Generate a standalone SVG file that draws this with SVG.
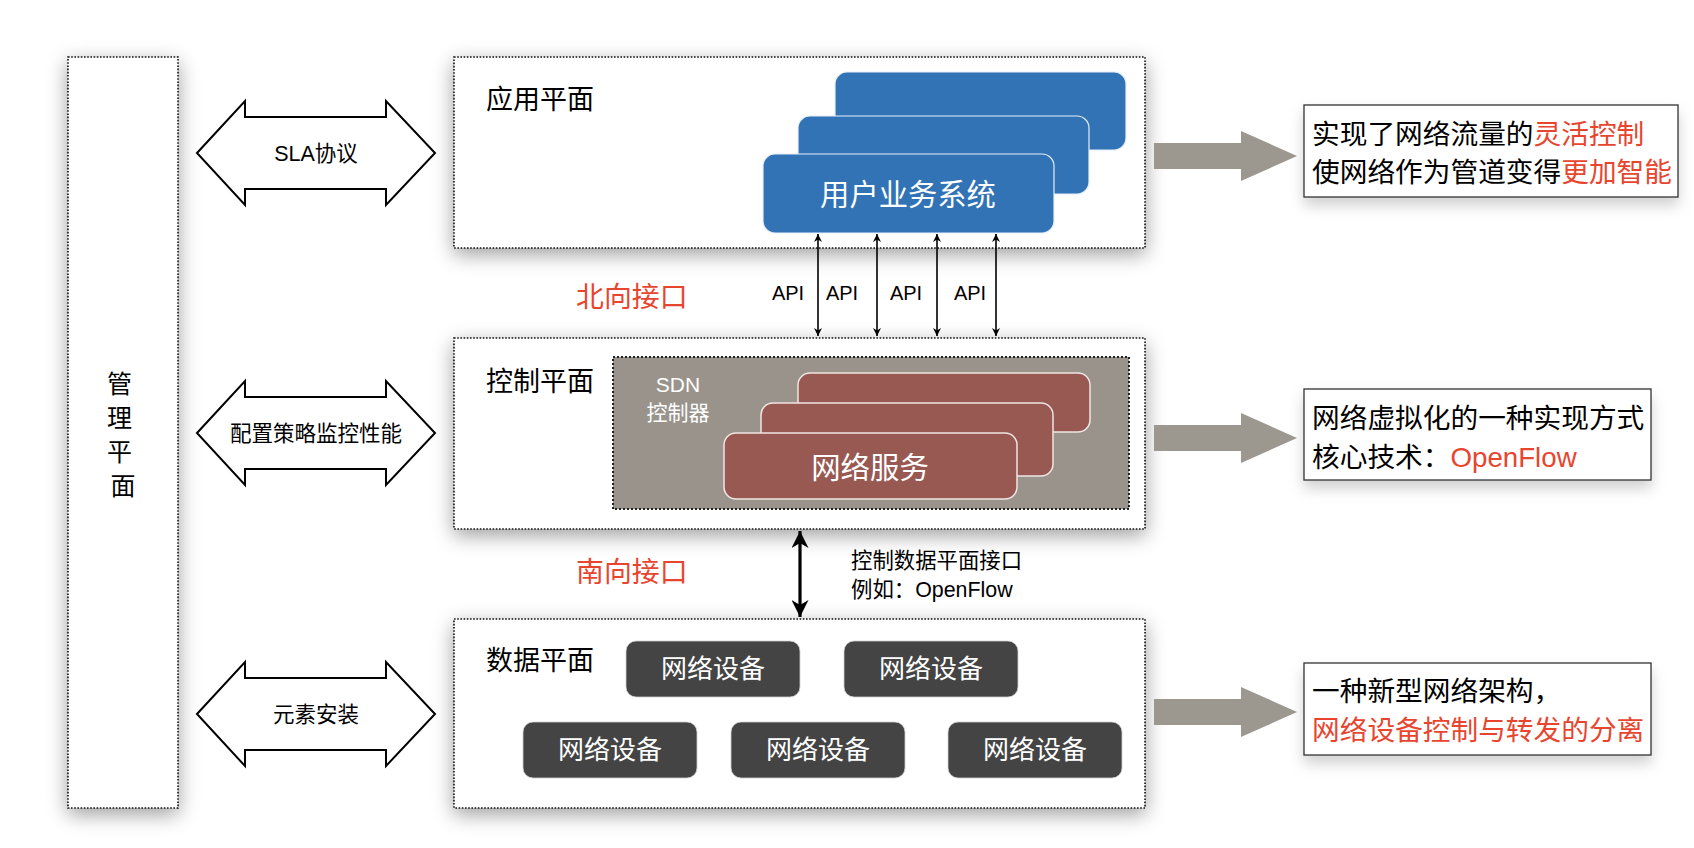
<svg xmlns="http://www.w3.org/2000/svg" width="1694" height="848" viewBox="0 0 1694 848">
  <defs>
    <filter id="shadow" x="-30%" y="-30%" width="160%" height="160%">
      <feDropShadow dx="0" dy="6" stdDeviation="10" flood-color="#000" flood-opacity="0.38"/>
    </filter>
    <filter id="shadow2" x="-20%" y="-30%" width="140%" height="170%">
      <feDropShadow dx="0" dy="8" stdDeviation="7" flood-color="#000" flood-opacity="0.18"/>
    </filter>
    <marker id="apiHead" viewBox="0 0 10 10" refX="10" refY="5" markerWidth="9" markerHeight="8" markerUnits="userSpaceOnUse" orient="auto-start-reverse">
      <path d="M0,0 L10,5 L0,10 L3,5 Z" fill="#000"/>
    </marker>
    <marker id="southHead" viewBox="0 0 10 10" refX="10" refY="5" markerWidth="17" markerHeight="17" markerUnits="userSpaceOnUse" orient="auto-start-reverse">
      <path d="M0,0 L10,5 L0,10 L3,5 Z" fill="#000"/>
    </marker>
  </defs>
  <style>
    text { font-family: "Liberation Sans", "Noto Sans CJK SC", sans-serif; }
    .plane { fill: #fff; stroke: #111; stroke-width: 1.6; stroke-dasharray: 1.6 1.6; filter: url(#shadow); }
    .label { font-size: 27px; fill: #000; }
    .red { fill: #e8452f; }
    .blk { fill: #000; }
    .blockarrow { fill: #fff; stroke: #000; stroke-width: 2; stroke-linejoin: miter; }
    .arrowtext { font-size: 21.5px; fill: #000; text-anchor: middle; }
    .blue { fill: #3273b6; stroke: #e6eef7; stroke-width: 1.2; }
    .brown { fill: #985953; stroke: #f0e6e4; stroke-width: 1.5; }
    .dev { fill: #444444; stroke: #cfcfcf; stroke-width: 0.8; }
    .wtext { fill: #fff; text-anchor: middle; }
    .gray { fill: #9c978f; }
    .note { fill: #fff; stroke: #333; stroke-width: 1.3; filter: url(#shadow2); }
    .notetext { font-size: 27.7px; }
    .api { stroke: #000; stroke-width: 1.6; fill: none; marker-start: url(#apiHead); marker-end: url(#apiHead); }
    .apitext { font-size: 20px; fill: #000; text-anchor: middle; }
  </style>
  <rect width="1694" height="848" fill="#fff"/>

  <!-- Management plane -->
  <g id="mgmt-plane">
    <rect class="plane" x="68" y="57" width="110" height="751"/>
    <text x="123" font-size="25" text-anchor="middle" fill="#000">
      <tspan x="123" y="393">管</tspan>
      <tspan x="123" y="427">理</tspan>
      <tspan x="123" y="461">平</tspan>
      <tspan x="123" y="495">面</tspan>
    </text>
  </g>

  <!-- Double block arrows -->
  <g id="arrow-sla">
    <path class="blockarrow" d="M197,153 L245,101 L245,117 L386,117 L386,101 L435,153 L386,205 L386,189 L245,189 L245,205 Z"/>
    <text class="arrowtext" x="316" y="160.5">SLA协议</text>
  </g>
  <g id="arrow-config">
    <path class="blockarrow" d="M197,433 L245,381 L245,397 L386,397 L386,381 L435,433 L386,485 L386,469 L245,469 L245,485 Z"/>
    <text class="arrowtext" x="316" y="441">配置策略监控性能</text>
  </g>
  <g id="arrow-install">
    <path class="blockarrow" d="M197,714 L245,662 L245,678 L386,678 L386,662 L435,714 L386,766 L386,750 L245,750 L245,766 Z"/>
    <text class="arrowtext" x="316" y="722">元素安装</text>
  </g>

  <!-- Application plane -->
  <g id="app-plane">
    <rect class="plane" x="454" y="57" width="691" height="191"/>
    <text class="label" x="486" y="108.7">应用平面</text>
    <rect class="blue" x="835" y="72" width="291" height="78" rx="12"/>
    <rect class="blue" x="798" y="116" width="291" height="78" rx="12"/>
    <rect class="blue" x="763" y="154" width="291" height="79" rx="12"/>
    <text class="wtext" x="908" y="204.5" font-size="29.3">用户业务系统</text>
  </g>

  <!-- Control plane -->
  <g id="control-plane">
    <rect class="plane" x="454" y="338" width="691" height="191"/>
    <text class="label" x="486" y="390.5">控制平面</text>
  </g>
  <g id="sdn-controller">
    <rect x="613" y="357" width="516" height="152" fill="#99938b" stroke="#222" stroke-width="2" stroke-dasharray="2 2"/>
    <text class="wtext" x="678" y="392" font-size="21">SDN</text>
    <text class="wtext" x="678" y="420" font-size="21">控制器</text>
    <rect class="brown" x="798" y="373" width="292" height="59" rx="12"/>
    <rect class="brown" x="761" y="403" width="292" height="73" rx="12"/>
    <rect class="brown" x="724" y="433" width="293" height="66" rx="12"/>
    <text class="wtext" x="870" y="477.5" font-size="29.4">网络服务</text>
  </g>

  <!-- Data plane -->
  <g id="data-plane">
    <rect class="plane" x="454" y="619" width="691" height="189"/>
    <text class="label" x="486" y="669.7">数据平面</text>
  </g>
  <g id="dev1"><rect class="dev" x="626" y="641" width="174" height="56" rx="10"/><text class="wtext" x="713" y="678.4" font-size="26">网络设备</text></g>
  <g id="dev2"><rect class="dev" x="844" y="641" width="174" height="56" rx="10"/><text class="wtext" x="931" y="678.4" font-size="26">网络设备</text></g>
  <g id="dev3"><rect class="dev" x="523" y="722" width="174" height="56" rx="10"/><text class="wtext" x="610" y="759.4" font-size="26">网络设备</text></g>
  <g id="dev4"><rect class="dev" x="731" y="722" width="174" height="56" rx="10"/><text class="wtext" x="818" y="759.4" font-size="26">网络设备</text></g>
  <g id="dev5"><rect class="dev" x="948" y="722" width="174" height="56" rx="10"/><text class="wtext" x="1035" y="759.4" font-size="26">网络设备</text></g>

  <!-- Interface labels -->
  <g id="north-label"><text class="red" x="576" y="307" font-size="27.9">北向接口</text></g>
  <g id="south-label"><text class="red" x="576" y="581.5" font-size="27.9">南向接口</text></g>
  <g id="south-desc">
    <text x="851" y="567.8" font-size="21.4" fill="#000">控制数据平面接口</text>
    <text x="851" y="597.3" font-size="21.4" fill="#000">例如：OpenFlow</text>
  </g>

  <!-- Connectors -->
  <g id="connectors">
    <line class="api" x1="818" y1="234" x2="818" y2="336"/>
    <line class="api" x1="877" y1="234" x2="877" y2="336"/>
    <line class="api" x1="937" y1="234" x2="937" y2="336"/>
    <line class="api" x1="996" y1="234" x2="996" y2="336"/>
    <line x1="800" y1="531" x2="800" y2="617" stroke="#000" stroke-width="3.2" marker-start="url(#southHead)" marker-end="url(#southHead)"/>
    <path class="gray" d="M1154,143 L1241,143 L1241,131 L1297,156 L1241,181 L1241,169 L1154,169 Z"/>
    <path class="gray" d="M1154,425 L1241,425 L1241,413 L1297,438 L1241,463 L1241,451 L1154,451 Z"/>
    <path class="gray" d="M1154,699 L1241,699 L1241,687 L1297,712 L1241,737 L1241,725 L1154,725 Z"/>
  </g>
  <g id="api-labels">
    <text class="apitext" x="788" y="300">API</text>
    <text class="apitext" x="842" y="300">API</text>
    <text class="apitext" x="906" y="300">API</text>
    <text class="apitext" x="970" y="300">API</text>
  </g>

  <!-- Notes -->
  <g id="note1">
    <rect class="note" x="1304" y="105" width="374" height="92"/>
    <text class="notetext" x="1312" y="143.5"><tspan class="blk">实现了网络流量的</tspan><tspan class="red">灵活控制</tspan></text>
    <text class="notetext" x="1312" y="181.5"><tspan class="blk">使网络作为管道变得</tspan><tspan class="red">更加智能</tspan></text>
  </g>
  <g id="note2">
    <rect class="note" x="1304" y="389" width="347" height="91"/>
    <text class="notetext blk" x="1312" y="427.5">网络虚拟化的一种实现方式</text>
    <text class="notetext" x="1312" y="466.5"><tspan class="blk">核心技术：</tspan><tspan class="red">OpenFlow</tspan></text>
  </g>
  <g id="note3">
    <rect class="note" x="1304" y="663" width="347" height="92"/>
    <text class="notetext blk" x="1312" y="700.5">一种新型网络架构，</text>
    <text class="notetext red" x="1312" y="739.5">网络设备控制与转发的分离</text>
  </g>
</svg>
